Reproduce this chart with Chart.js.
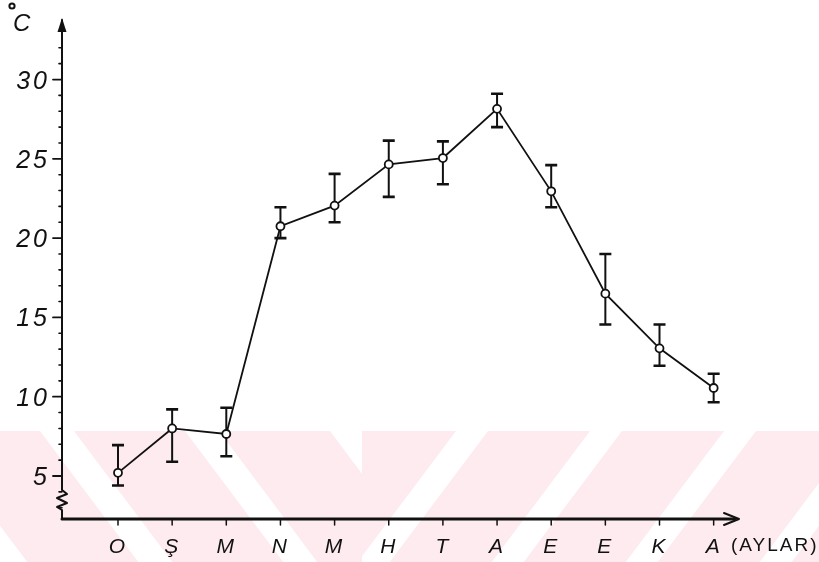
<!DOCTYPE html>
<html>
<head>
<meta charset="utf-8">
<script src="https://cdn.jsdelivr.net/npm/chart.js@4"></script>
<style>
  html, body { margin: 0; padding: 0; background: #fff; }
  canvas { display: block; }
</style>
</head>
<body>
<canvas id="c" width="819" height="562"></canvas>
<script>
// Monthly mean temperature (°C) with min/max range
const categories = ['O', 'Ş', 'M', 'N', 'M', 'H', 'T', 'A', 'E', 'E', 'K', 'A'];
const meanTemp   = [5.2, 8.0, 7.65, 20.75, 22.05, 24.65, 25.05, 28.15, 22.95, 16.5, 13.05, 10.55];
const rangeHigh  = [6.95, 9.2, 9.3, 21.95, 24.05, 26.15, 26.1, 29.1, 24.6, 19.0, 14.55, 11.45];
const rangeLow   = [4.4, 5.9, 6.25, 20.0, 21.0, 22.6, 23.4, 27.0, 21.95, 14.55, 11.95, 9.65];
const yTickLabels = [5, 10, 15, 20, 25, 30];
const yMinorTicks = [3, 4, 6, 7, 8, 9, 11, 12, 13, 14, 16, 17, 18, 19, 21, 22, 23, 24, 26, 27, 28, 29, 31, 32];
const unitLabel = 'C';
const axisLabel = '(AYLAR)';

const points = meanTemp.map((v, i) => ({ x: i, y: v }));

// Pale striped band behind the lower part of the page
const backdrop = {
  id: 'backdrop',
  beforeDraw(chart) {
    const ctx = chart.ctx;
    const W = chart.width, H = chart.height;
    ctx.save();
    ctx.fillStyle = '#ffffff';
    ctx.fillRect(0, 0, W, H);
    const top = 431, split = 362, k = 0.75;
    ctx.fillStyle = 'rgb(253,235,239)';
    ctx.fillRect(0, top, W, H - top);
    ctx.fillStyle = '#ffffff';
    const h = H - top;
    // left part: stripes falling to the right
    ctx.save();
    ctx.beginPath(); ctx.rect(0, top, split, h); ctx.clip();
    for (let s = 40 - 145 * 3; s < split + 50; s += 145) {
      ctx.beginPath();
      ctx.moveTo(s, top); ctx.lineTo(s + 34, top);
      ctx.lineTo(s + 34 + k * h, H); ctx.lineTo(s + k * h, H);
      ctx.closePath(); ctx.fill();
    }
    ctx.restore();
    // right part: stripes rising to the right
    ctx.save();
    ctx.beginPath(); ctx.rect(split, top, W - split, h); ctx.clip();
    for (let s = 54; s < W + 200; s += 134) {
      ctx.beginPath();
      ctx.moveTo(s, top); ctx.lineTo(s + 32, top);
      ctx.lineTo(s + 32 - k * h, H); ctx.lineTo(s - k * h, H);
      ctx.closePath(); ctx.fill();
    }
    ctx.restore();
    ctx.restore();
  }
};

// Hand-style axes, ticks, labels and range bars
const axesAndBars = {
  id: 'axesAndBars',
  beforeDatasetsDraw(chart) {
    const ctx = chart.ctx;
    const xs = chart.scales.x, ys = chart.scales.y;
    const x0 = xs.left, x1 = xs.right;
    const yb = ys.bottom, yt = ys.top;
    ctx.save();
    ctx.strokeStyle = '#111';
    ctx.fillStyle = '#111';
    ctx.lineCap = 'round';
    ctx.lineJoin = 'round';

    // y axis with a break near the bottom
    ctx.lineWidth = 2;
    ctx.beginPath();
    ctx.moveTo(x0, yb);
    ctx.lineTo(x0, yb - 9);
    ctx.lineTo(x0 - 5, yb - 12);
    ctx.lineTo(x0 + 5, yb - 16);
    ctx.lineTo(x0 - 5, yb - 21);
    ctx.lineTo(x0 + 5, yb - 25);
    ctx.lineTo(x0, yb - 29);
    ctx.lineTo(x0, yt + 2);
    ctx.stroke();
    // y arrow head
    ctx.beginPath();
    ctx.moveTo(x0, yt);
    ctx.lineTo(x0 - 4.5, yt + 14);
    ctx.lineTo(x0 + 4.5, yt + 14);
    ctx.closePath();
    ctx.fill();

    // x axis
    ctx.lineWidth = 3;
    ctx.beginPath();
    ctx.moveTo(x0, yb);
    ctx.lineTo(x1 - 4, yb);
    ctx.stroke();
    ctx.lineWidth = 2;
    ctx.beginPath();
    ctx.moveTo(x1 - 15, yb - 6);
    ctx.lineTo(x1, yb);
    ctx.lineTo(x1 - 15, yb + 6);
    ctx.stroke();

    // y ticks
    ctx.lineWidth = 1.6;
    yMinorTicks.forEach(v => {
      const y = ys.getPixelForValue(v);
      ctx.beginPath(); ctx.moveTo(x0 - 3, y); ctx.lineTo(x0, y); ctx.stroke();
    });
    ctx.lineWidth = 1.8;
    ctx.font = 'italic 25px "Liberation Sans"';
    ctx.textAlign = 'right';
    ctx.textBaseline = 'alphabetic';
    ctx.letterSpacing = '3px';
    yTickLabels.forEach(v => {
      const y = ys.getPixelForValue(v);
      ctx.beginPath(); ctx.moveTo(x0 - 9, y); ctx.lineTo(x0, y); ctx.stroke();
      ctx.fillText(String(v), x0 - 12, y + 9);
    });

    // x ticks and month labels
    ctx.letterSpacing = '0px';
    ctx.font = 'italic 21px "Liberation Sans"';
    ctx.textAlign = 'center';
    categories.forEach((c, i) => {
      const x = xs.getPixelForValue(i);
      ctx.lineWidth = 1.5;
      ctx.beginPath(); ctx.moveTo(x, yb); ctx.lineTo(x, yb + 6); ctx.stroke();
      ctx.fillText(c, x - 1, yb + 34);
    });
    ctx.textAlign = 'left';
    ctx.font = '19px "Liberation Sans"';
    ctx.letterSpacing = '2px';
    ctx.fillText(axisLabel, x1 - 8, yb + 32);

    // unit label
    ctx.letterSpacing = '0px';
    ctx.font = 'italic 24px "Liberation Sans"';
    ctx.fillText(unitLabel, 13, 31);
    ctx.lineWidth = 2;
    ctx.beginPath(); ctx.arc(12, 6, 2.6, 0, Math.PI * 2); ctx.stroke();

    // range bars
    ctx.lineCap = 'butt';
    meanTemp.forEach((v, i) => {
      const x = xs.getPixelForValue(i);
      const yh = ys.getPixelForValue(rangeHigh[i]);
      const yl = ys.getPixelForValue(rangeLow[i]);
      ctx.lineWidth = 2;
      ctx.beginPath(); ctx.moveTo(x, yh); ctx.lineTo(x, yl); ctx.stroke();
      ctx.lineWidth = 2.6;
      ctx.beginPath();
      ctx.moveTo(x - 6, yh); ctx.lineTo(x + 6, yh);
      ctx.moveTo(x - 6, yl); ctx.lineTo(x + 6, yl);
      ctx.stroke();
    });
    ctx.restore();
  }
};

new Chart(document.getElementById('c'), {
  type: 'line',
  data: {
    datasets: [{
      data: points,
      borderColor: '#111',
      borderWidth: 1.8,
      tension: 0,
      pointRadius: 4,
      pointHoverRadius: 4,
      pointBorderWidth: 1.8,
      pointBorderColor: '#111',
      pointBackgroundColor: '#fff',
      clip: false
    }]
  },
  options: {
    responsive: false,
    animation: false,
    events: [],
    layout: { padding: { left: 62, right: 80, top: 18, bottom: 43 } },
    plugins: { legend: { display: false }, tooltip: { enabled: false } },
    scales: {
      x: { type: 'linear', display: false, min: -1.034, max: 11.468 },
      y: { type: 'linear', display: false, min: 2.289, max: 33.88 }
    }
  },
  plugins: [backdrop, axesAndBars]
});
</script>
</body>
</html>
